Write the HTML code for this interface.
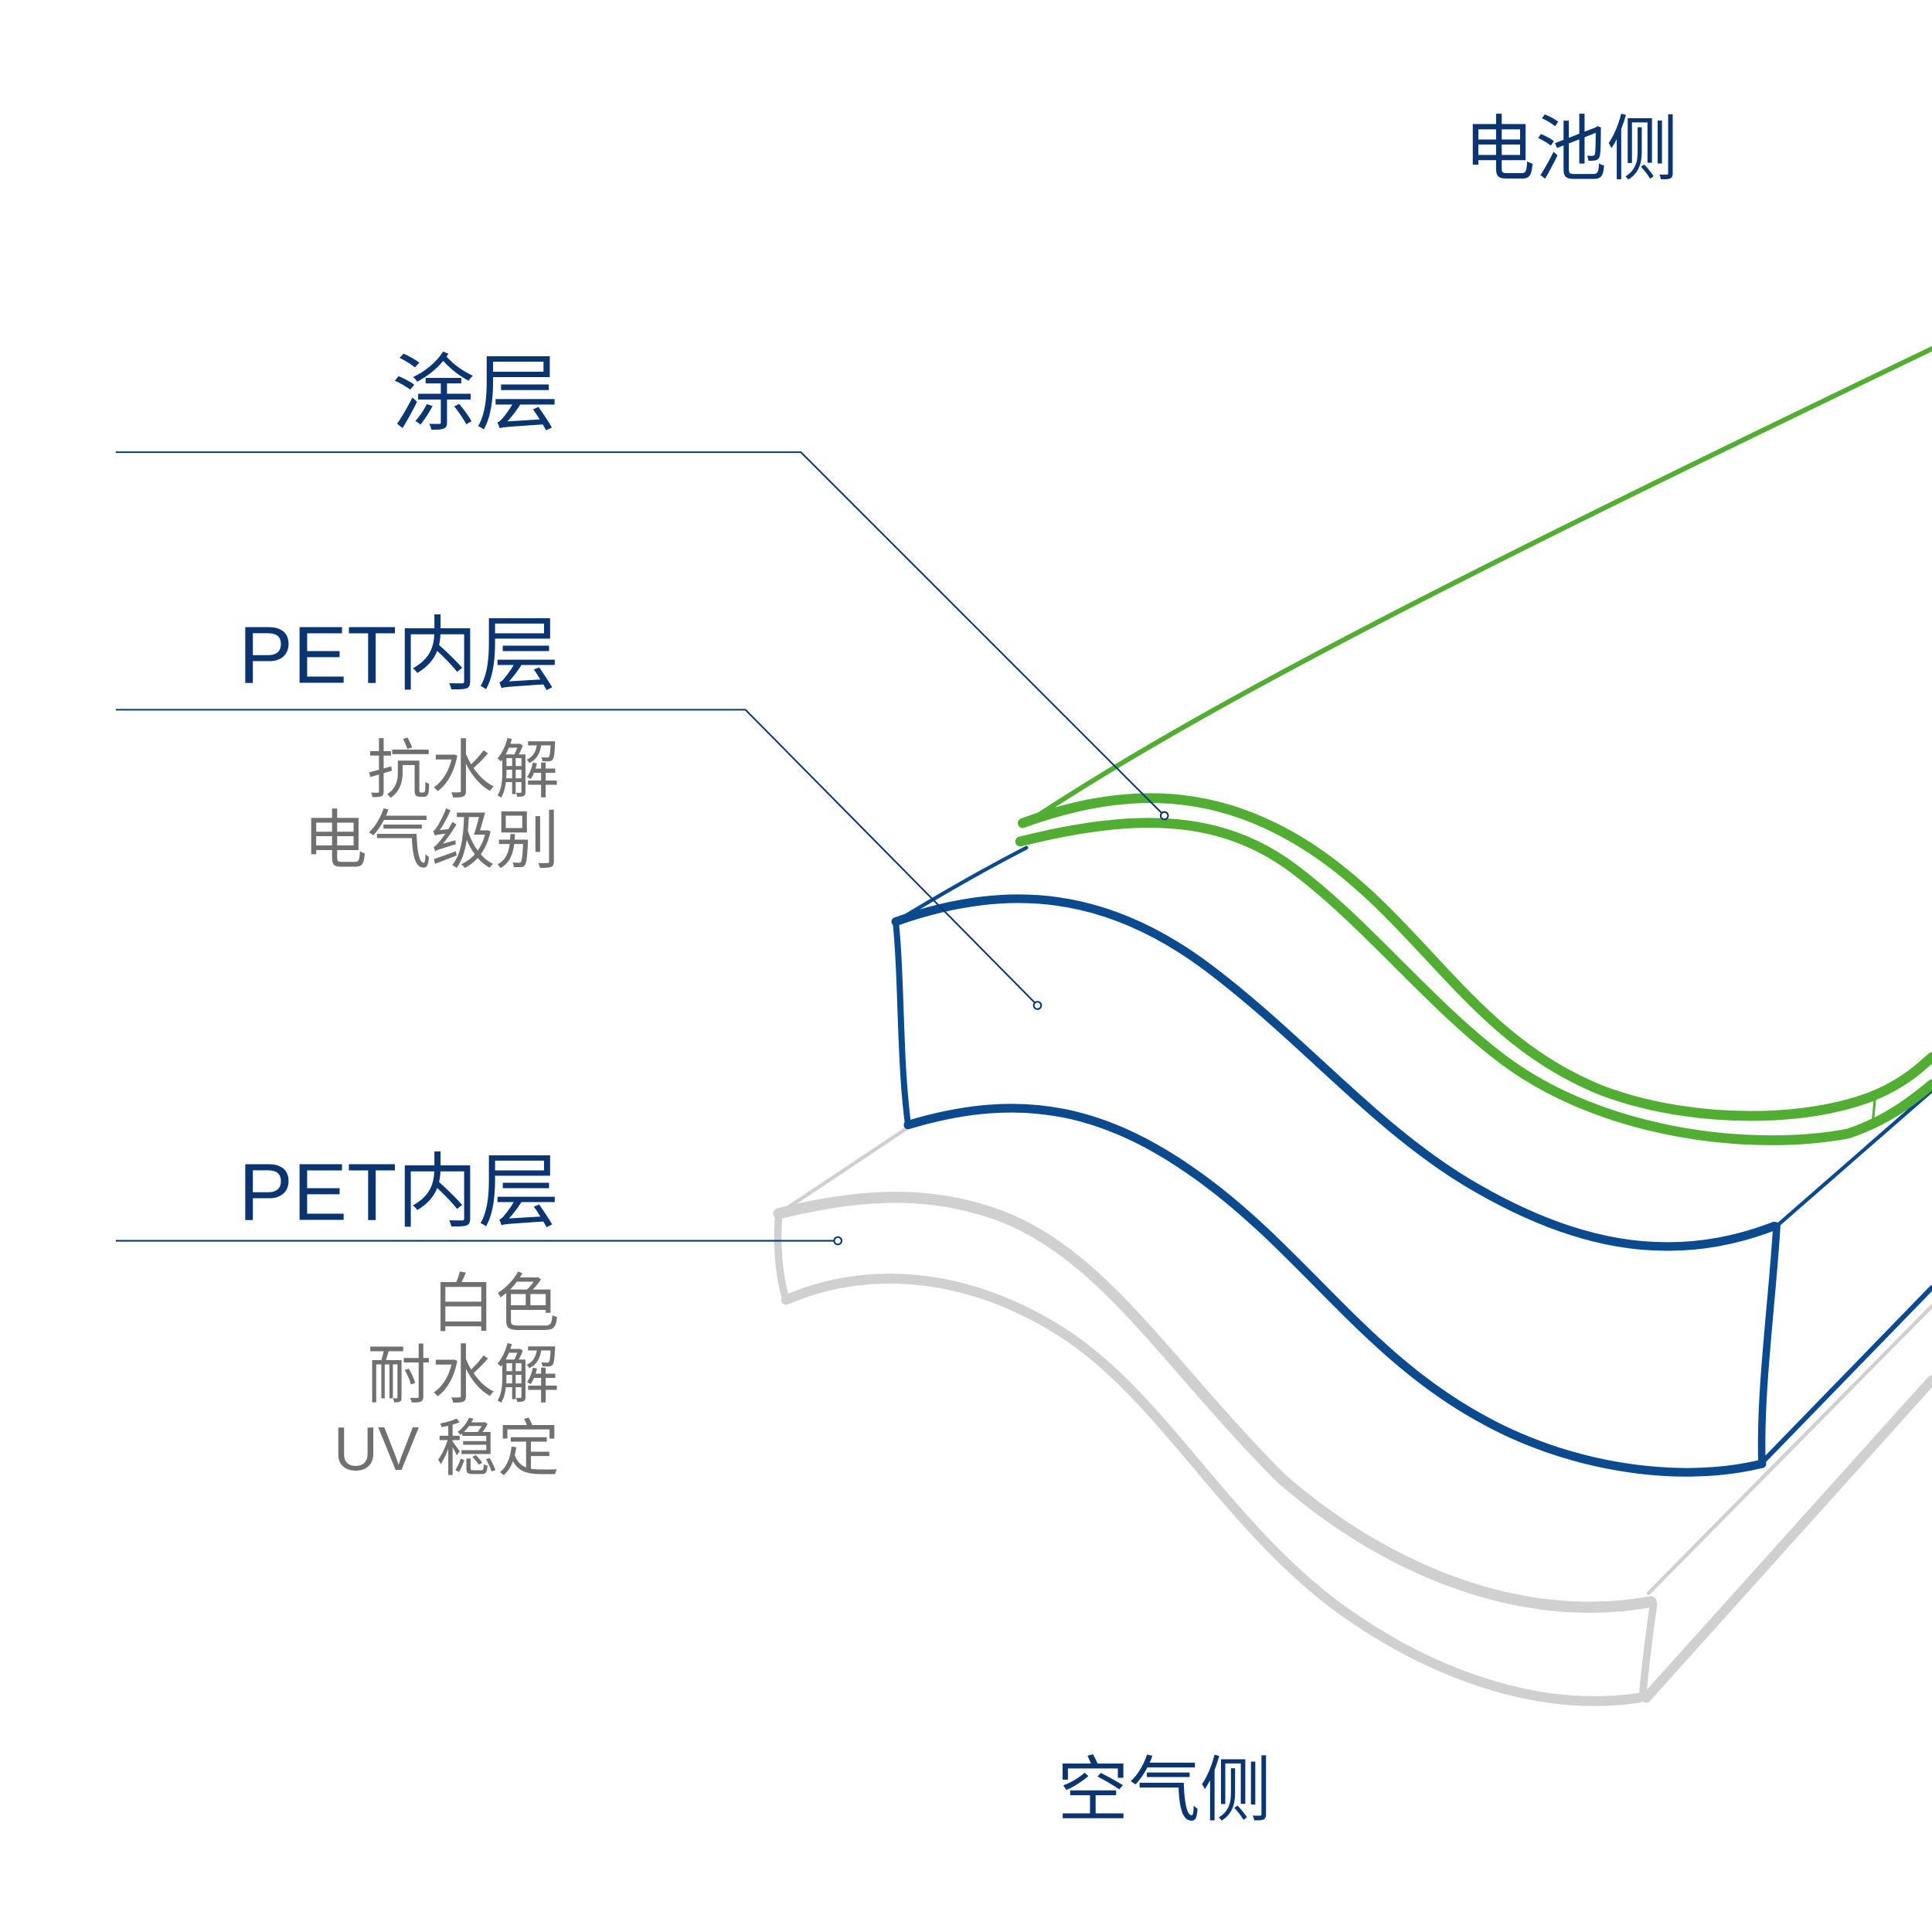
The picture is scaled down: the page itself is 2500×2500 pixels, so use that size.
<!DOCTYPE html>
<html><head><meta charset="utf-8"><style>
html,body{margin:0;padding:0;background:#fff}
svg{display:block}
text{font-family:"Liberation Sans","Noto Sans CJK SC",sans-serif}
</style></head><body>
<svg width="2500" height="2500" viewBox="0 0 1568 1568" xmlns="http://www.w3.org/2000/svg">
<rect width="1568" height="1568" fill="#fff"/>
<!-- gray layer -->
<g fill="none" stroke="#d0d0d0" stroke-linecap="round">
<path d="M632,985 C700,968 760,965 820,990 C900,1025 950,1110 1040,1200 C1120,1270 1230,1320 1340,1300" stroke-width="9"/>
<path d="M638,1055 C700,1028 780,1030 860,1080 C940,1130 990,1230 1080,1300 C1160,1360 1250,1390 1330,1378" stroke-width="8"/>
<path d="M632,985 C630,1010 632,1035 638,1055" stroke-width="6"/>
<path d="M1342,1302 C1338,1330 1335,1355 1333,1378" stroke-width="6"/>
<path d="M632,985 L737,915" stroke-width="3"/>
<path d="M1338,1293 L1568,1060" stroke-width="3"/>
<path d="M1336,1378 L1568,1120" stroke-width="8"/>
</g>
<!-- blue layer -->
<g fill="none" stroke="#0b4a8f" stroke-linecap="round">
<path d="M727,748 C820,715 900,725 980,785 C1060,845 1120,920 1200,965 C1270,1005 1350,1030 1440,995" stroke-width="7"/>
<path d="M737,913 C830,885 900,900 980,960 C1060,1020 1110,1100 1200,1150 C1270,1190 1360,1205 1430,1188" stroke-width="7"/>
<path d="M727,748 C732,800 730,860 737,913" stroke-width="5"/>
<path d="M1442,995 C1438,1060 1428,1130 1430,1188" stroke-width="6"/>
<path d="M727,748 C760,728 800,705 833,688" stroke-width="3"/>
<path d="M1442,995 L1568,885" stroke-width="3"/>
<path d="M1432,1185 L1568,1045" stroke-width="4"/>
</g>
<!-- green layer -->
<g fill="none" stroke="#52ae32" stroke-linecap="round">
<path d="M830,670 C980,570 1200,460 1568,283" stroke-width="4"/>
<path d="M830,668 C920,635 1000,640 1080,700 C1160,760 1200,845 1300,885 C1380,915 1480,910 1530,885 C1550,875 1560,865 1568,858" stroke-width="8"/>
<path d="M828,683 C920,660 990,660 1050,705 C1110,750 1160,815 1220,860 C1300,920 1420,935 1500,920 C1530,910 1550,895 1568,880" stroke-width="8"/>
<path d="M1522,888 L1520,910" stroke-width="2"/>
</g>
<!-- leader lines -->
<g fill="none" stroke="#0b3570" stroke-width="1.3">
<polyline points="94,367 650,367 945,662"/>
<polyline points="94,576 605,576 842,816"/>
<polyline points="94,1007 680,1007"/>
</g>
<g fill="#fff" stroke="#0b3570" stroke-width="1.3">
<circle cx="945" cy="662" r="3"/>
<circle cx="842" cy="816" r="3"/>
<circle cx="680" cy="1007" r="3"/>
</g>
<!-- text -->
<g fill="#0b3570">
<text x="1362" y="141" font-size="58" text-anchor="end">电池侧</text>
<text x="454" y="343" font-size="68" text-anchor="end">涂层</text>
<text x="454" y="554" font-size="66" text-anchor="end">PET内层</text>
<text x="454" y="990" font-size="66" text-anchor="end">PET内层</text>
<text x="1032" y="1473" font-size="58" text-anchor="end">空气侧</text>
</g>
<g fill="#707070" font-size="52" text-anchor="end">
<text x="454" y="643">抗水解</text>
<text x="454" y="700">电气级别</text>
<text x="454" y="1076">白色</text>
<text x="454" y="1134">耐水解</text>
<text x="454" y="1193" font-size="50">UV 稳定</text>
</g>
</svg>
</body></html>
